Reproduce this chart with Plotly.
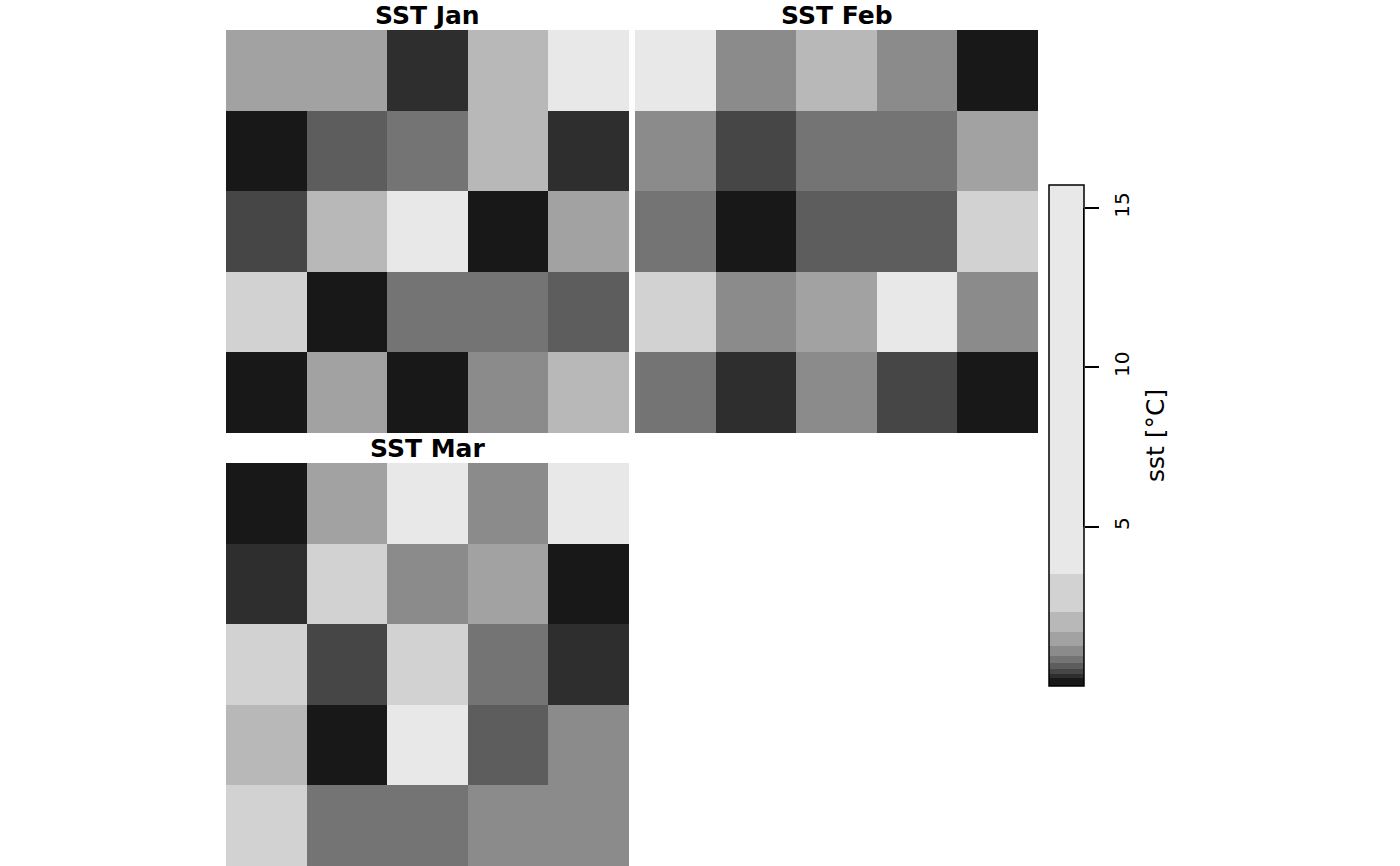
import plotly.graph_objects as go

W, H = 1400, 866
FONT = "DejaVu Sans"

# sea surface temperature, 5x5 grid per month, rows listed top to bottom
sst_jan = [
    [1.34, 1.46, 0.29, 1.82, 4.61],
    [0.11, 0.58, 0.79, 2.04, 0.33],
    [0.44, 1.77, 15.72, 0.06, 1.55],
    [2.62, 0.17, 0.83, 0.91, 0.63],
    [0.09, 1.28, 0.21, 1.07, 1.93],
]
sst_feb = [
    [6.38, 1.13, 2.17, 0.99, 0.14],
    [1.02, 0.47, 0.76, 0.88, 1.41],
    [0.85, 0.03, 0.55, 0.69, 3.12],
    [2.48, 1.18, 1.62, 3.86, 1.09],
    [0.72, 0.26, 1.21, 0.40, 0.19],
]
sst_mar = [
    [0.12, 1.37, 5.24, 1.16, 9.47],
    [0.31, 2.85, 0.97, 1.52, 0.08],
    [2.39, 0.43, 3.41, 0.81, 0.36],
    [1.71, 0.22, 4.09, 0.61, 1.03],
    [2.95, 0.78, 0.93, 1.24, 1.15],
]
panel_titles = ["SST Jan", "SST Feb", "SST Mar"]

# class breaks and grey for each class
breaks = [0, 0.24, 0.38, 0.52, 0.71, 0.95, 1.25, 1.69, 2.31, 3.53, 15.72]
greys = ["#181818", "#2e2e2e", "#464646", "#5d5d5d", "#747474",
         "#8b8b8b", "#a2a2a2", "#b8b8b8", "#d2d2d2", "#e8e8e8"]
legend_ticks = [5, 10, 15]

zmin, zmax = breaks[0], breaks[-1]
colorscale = []
for i, c in enumerate(greys):
    lo = (breaks[i] - zmin) / (zmax - zmin)
    hi = 1.0 if i == len(greys) - 1 else (breaks[i + 1] - zmin) / (zmax - zmin)
    colorscale += [[lo, c], [hi, c]]


def px_x(x):
    return x / W


def px_y(y):
    return 1 - y / H


# panel boxes in screen pixels: (left, right, top, bottom)
boxes = [(226, 629, 30, 433), (635, 1038, 30, 433), (226, 629, 463, 866)]
grids = [sst_jan, sst_feb, sst_mar]

fig = go.Figure()
layout = dict(
    width=W, height=H,
    margin=dict(l=0, r=0, t=0, b=0),
    plot_bgcolor="white", paper_bgcolor="white",
    showlegend=False,
    font=dict(family=FONT, color="black"),
)
annotations = []

for k, (grid, (l, r, t, b)) in enumerate(zip(grids, boxes)):
    n = k + 1
    xa = "x" if n == 1 else f"x{n}"
    ya = "y" if n == 1 else f"y{n}"
    fig.add_trace(go.Heatmap(
        z=grid[::-1],
        x=[0.5, 1.5, 2.5, 3.5, 4.5],
        y=[0.5, 1.5, 2.5, 3.5, 4.5],
        zmin=zmin, zmax=zmax,
        colorscale=colorscale,
        showscale=False,
        xaxis=xa, yaxis=ya,
        hovertemplate="sst: %{z:.2f}<extra></extra>",
    ))
    ax = dict(visible=False, range=[0, 5], fixedrange=True)
    layout["xaxis" if n == 1 else f"xaxis{n}"] = dict(ax, domain=[px_x(l), px_x(r)], anchor=ya)
    layout["yaxis" if n == 1 else f"yaxis{n}"] = dict(ax, domain=[px_y(b), px_y(t)], anchor=xa)
    annotations.append(dict(
        text=f"<b>{panel_titles[k]}</b>", x=px_x((l + r) / 2), y=px_y(t - 14),
        xref="paper", yref="paper", showarrow=False,
        xanchor="center", yanchor="middle", font=dict(size=25),
    ))

# legend bar drawn as its own heatmap on a value axis
mids = [(breaks[i] + breaks[i + 1]) / 2 for i in range(len(greys))]
fig.add_trace(go.Heatmap(
    z=[[m] for m in mids],
    x=[0, 1],
    y=breaks,
    zmin=zmin, zmax=zmax,
    colorscale=colorscale,
    showscale=False,
    xaxis="x4", yaxis="y4",
    hoverinfo="skip",
))
cb_l, cb_r, cb_t, cb_b = 1049, 1084, 185, 686
layout["xaxis4"] = dict(visible=False, range=[0, 1], domain=[px_x(cb_l), px_x(cb_r)],
                        anchor="y4", fixedrange=True)
layout["yaxis4"] = dict(
    range=[zmin, zmax], domain=[px_y(cb_b), px_y(cb_t)], anchor="x4", side="right",
    tickvals=legend_ticks, ticks="outside", ticklen=14, tickwidth=2, tickcolor="black",
    tickangle=-90, tickfont=dict(size=20), ticklabelstandoff=6,
    showgrid=False, zeroline=False, showline=False, fixedrange=True,
)
annotations.append(dict(
    text="sst [°C]", x=px_x(1155), y=px_y(436), xref="paper", yref="paper",
    showarrow=False, textangle=-90, xanchor="center", yanchor="middle",
    font=dict(size=25),
))

layout["annotations"] = annotations
layout["shapes"] = [
    dict(type="rect", xref="paper", yref="paper",
         x0=px_x(cb_l), x1=px_x(cb_r), y0=px_y(cb_b), y1=px_y(cb_t),
         line=dict(color="black", width=1.5)),
    # axis line joining the outer ticks
    dict(type="line", xref="x4", yref="y4", x0=1, x1=1,
         y0=legend_ticks[0], y1=legend_ticks[-1],
         line=dict(color="black", width=2)),
]
fig.update_layout(**layout)

# drop the default page margin so the figure sits at the window's corner
fig.write_html(
    "out.html",
    config={"displayModeBar": False},
    post_script="document.body.style.margin = '0';",
)
